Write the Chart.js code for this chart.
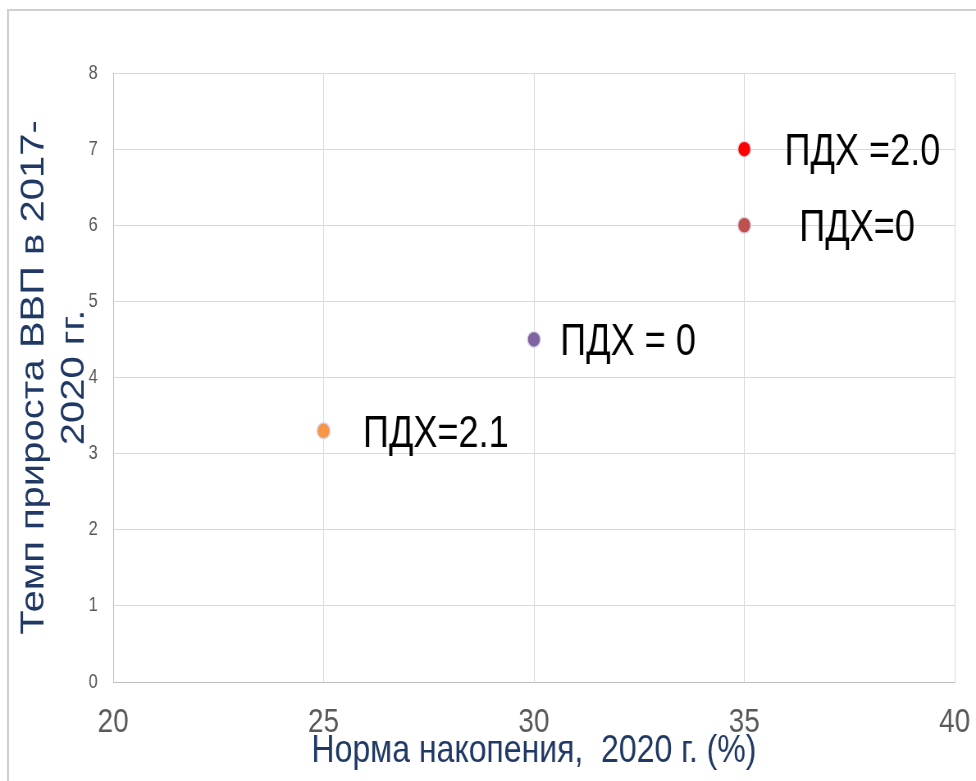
<!DOCTYPE html>
<html>
<head>
<meta charset="utf-8">
<script src="https://cdn.jsdelivr.net/npm/chart.js@4"></script>
<style>
  body { margin: 0; background: #fff; }
  #wrap { position: relative; width: 976px; height: 781px; overflow: hidden; }
  #frame { position: absolute; left: 7px; top: 9px; right: 0; bottom: 0;
           border-left: 2px solid #cfcfcf; border-top: 2px solid #cfcfcf; pointer-events: none; }
</style>
</head>
<body>
<div id="wrap">
  <!-- drawn 1190 wide and shown at 976, the original slide picture is squeezed sideways -->
  <canvas id="chart" width="1190" height="781" style="width:976px;height:781px"></canvas>
  <div id="frame"></div>
</div>
<script>
// data
const savingRate = [25, 30, 35, 35];          // x, %
const gdpGrowth = [3.3, 4.5, 6, 7];           // y
const pointLabels = ["ПДХ=2.1", "ПДХ = 0", "ПДХ=0", "ПДХ =2.0"];
const pointColors = ["#f79646", "#8064a2", "#c0504d", "#ff0000"];
const xTicks = [20, 25, 30, 35, 40];
const yTicks = [0, 1, 2, 3, 4, 5, 6, 7, 8];

// label gap to the right of each point (canvas px)
const labelDx = [48, 32, 67, 49];

const font = "'Liberation Sans', Arial, sans-serif";

const labelPlugin = {
  id: "pointText",
  afterDatasetsDraw(chart) {
    const ctx = chart.ctx;
    const meta = chart.getDatasetMeta(0);
    ctx.save();
    ctx.font = "44px " + font;
    ctx.fillStyle = "#000";
    ctx.textAlign = "left";
    ctx.textBaseline = "alphabetic";
    meta.data.forEach((pt, i) => {
      ctx.fillText(pointLabels[i], pt.x + labelDx[i], pt.y + 44 * 0.358);
    });
    ctx.restore();
  }
};

new Chart(document.getElementById("chart"), {
  type: "scatter",
  data: {
    datasets: [{
      data: savingRate.map((x, i) => ({ x: x, y: gdpGrowth[i] })),
      backgroundColor: pointColors,
      borderColor: "#dcd8e8",
      borderWidth: 1.5,
      pointRadius: 8,
      pointHoverRadius: 8
    }]
  },
  options: {
    responsive: false,
    animation: false,
    devicePixelRatio: 1,
    layout: { padding: { left: 0, top: 73, right: 26, bottom: 0 } },
    plugins: { legend: { display: false }, tooltip: { enabled: false } },
    scales: {
      x: {
        type: "linear",
        min: xTicks[0],
        max: xTicks[xTicks.length - 1],
        afterBuildTicks: s => { s.ticks = xTicks.map(v => ({ value: v })); },
        afterFit: s => { s.height = 99; s.paddingLeft = 0; s.paddingRight = 0; },
        grid: { color: "#d9d9d9", drawTicks: false },
        border: { color: "#bfbfbf" },
        ticks: { color: "#595959", padding: 20, font: { size: 34, family: font } },
        title: {
          display: true,
          text: "Норма накопения,  2020 г. (%)",
          color: "#1f3864",
          font: { size: 39, family: font, lineHeight: 1.2 },
          padding: { top: 0, bottom: 6 }
        }
      },
      y: {
        type: "linear",
        min: yTicks[0],
        max: yTicks[yTicks.length - 1],
        afterBuildTicks: s => { s.ticks = yTicks.map(v => ({ value: v })); },
        afterFit: s => { s.width = 138; },
        grid: { color: "#d9d9d9", drawTicks: false },
        border: { color: "#bfbfbf" },
        ticks: { color: "#595959", padding: 19, font: { size: 20, family: font } },
        title: {
          display: true,
          text: ["Темп прироста ВВП в 2017-", "2020 гг."],
          color: "#1f3864",
          font: { size: 40, family: font, lineHeight: 1.22 },
          padding: { top: 18, bottom: 0 }
        }
      }
    }
  },
  plugins: [labelPlugin]
});
</script>
</body>
</html>
